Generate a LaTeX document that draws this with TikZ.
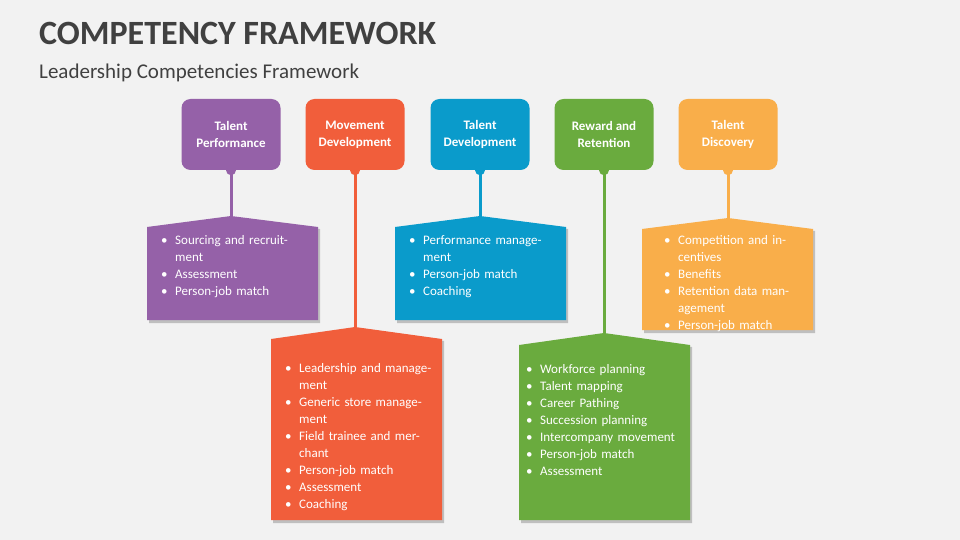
\documentclass[tikz,border=0pt]{standalone}
\usepackage{fontspec}
\setmainfont{Carlito}
\usetikzlibrary{calc}
\definecolor{bg}{HTML}{F2F2F2}
\definecolor{ttl}{HTML}{404040}
\definecolor{cP}{HTML}{9561A8}
\definecolor{cO}{HTML}{F15E3B}
\definecolor{cB}{HTML}{0A9BCB}
\definecolor{cG}{HTML}{6AAB3E}
\definecolor{cY}{HTML}{F9AE4A}
\newcommand{\bi}[1]{\par\hangindent=14pt\hangafter=1\noindent\makebox[14pt][l]{\textbullet}#1}
\tikzset{
 head/.style={fill=#1, rounded corners=9pt, minimum width=99pt, minimum height=71pt, text=white, font=\fontsize{13}{17}\selectfont\bfseries, align=center, inner sep=0pt},
 body/.style={text=white, font=\fontsize{13}{17}\selectfont, text width=150pt, anchor=north west, inner sep=0pt, align=left},
 conn/.style={draw=#1, line width=3pt}
}
\begin{document}
\begin{tikzpicture}[x=1pt,y=-1pt]
\fill[bg] (0,0) rectangle (960,540);
\useasboundingbox (0,0) rectangle (960,540);
\node[anchor=west, text=ttl, font=\fontsize{34}{40}\selectfont\bfseries, inner sep=0pt] (title) at (39,33) {COMPETENCY FRAMEWORK};
\node[anchor=west, text=ttl, font=\fontsize{21}{25}\selectfont, inner sep=0pt] (sub) at (39,73) {Leadership Competencies Framework};
% cx, color, header, left, peak, side, bottom, name
\foreach \cx/\c/\h/\l/\pk/\sd/\bt/\nm in {
 231/cP/{Talent\\Performance}/147/216/227/320/a,
 355/cO/{Movement\\Development}/271/327/339/520/b,
 480/cB/{Talent\\Development}/395/216/227/320/c,
 604/cG/{Reward and\\Retention}/519/333/345/520/d,
 728/cY/{Talent\\Discovery}/642/218/229/330/e}{
 \node[head=\c] (h\nm) at (\cx,134.5) {\h};
 \coordinate (p\nm) at (\cx,\pk);
 \fill[black!25] (\l+2,\sd+2) -- ($(p\nm)+(2,2)$) -- (\l+173,\sd+2) -- (\l+173,\bt+3) -- (\l+2,\bt+3) -- cycle;
 \fill[\c] (\l,\sd) -- (p\nm) -- (\l+171,\sd) -- (\l+171,\bt) -- (\l,\bt) -- cycle;
 \draw[conn=\c] (h\nm.south) -- (p\nm);
 \fill[\c] (h\nm.south) circle (5);
}
\node[body] (ta) at (161,227) {\bi{Sourcing and recruitment}\bi{Assessment}\bi{Person-job match}};
\node[body] (tb) at (285,355) {\bi{Leadership and management}\bi{Generic store management}\bi{Field trainee and merchant}\bi{Person-job match}\bi{Assessment}\bi{Coaching}};
\node[body] (tc) at (409,227) {\bi{Performance management}\bi{Person-job match}\bi{Coaching}};
\node[body,text width=155pt] (td) at (526,356) {\bi{Workforce planning}\bi{Talent mapping}\bi{Career Pathing}\bi{Succession planning}\bi{Intercompany movement}\bi{Person-job match}\bi{Assessment}};
\node[body,text width=140pt] (te) at (664,227) {\bi{Competition and incentives}\bi{Benefits}\bi{Retention data management}\bi{Person-job match}};
\end{tikzpicture}
\end{document}
